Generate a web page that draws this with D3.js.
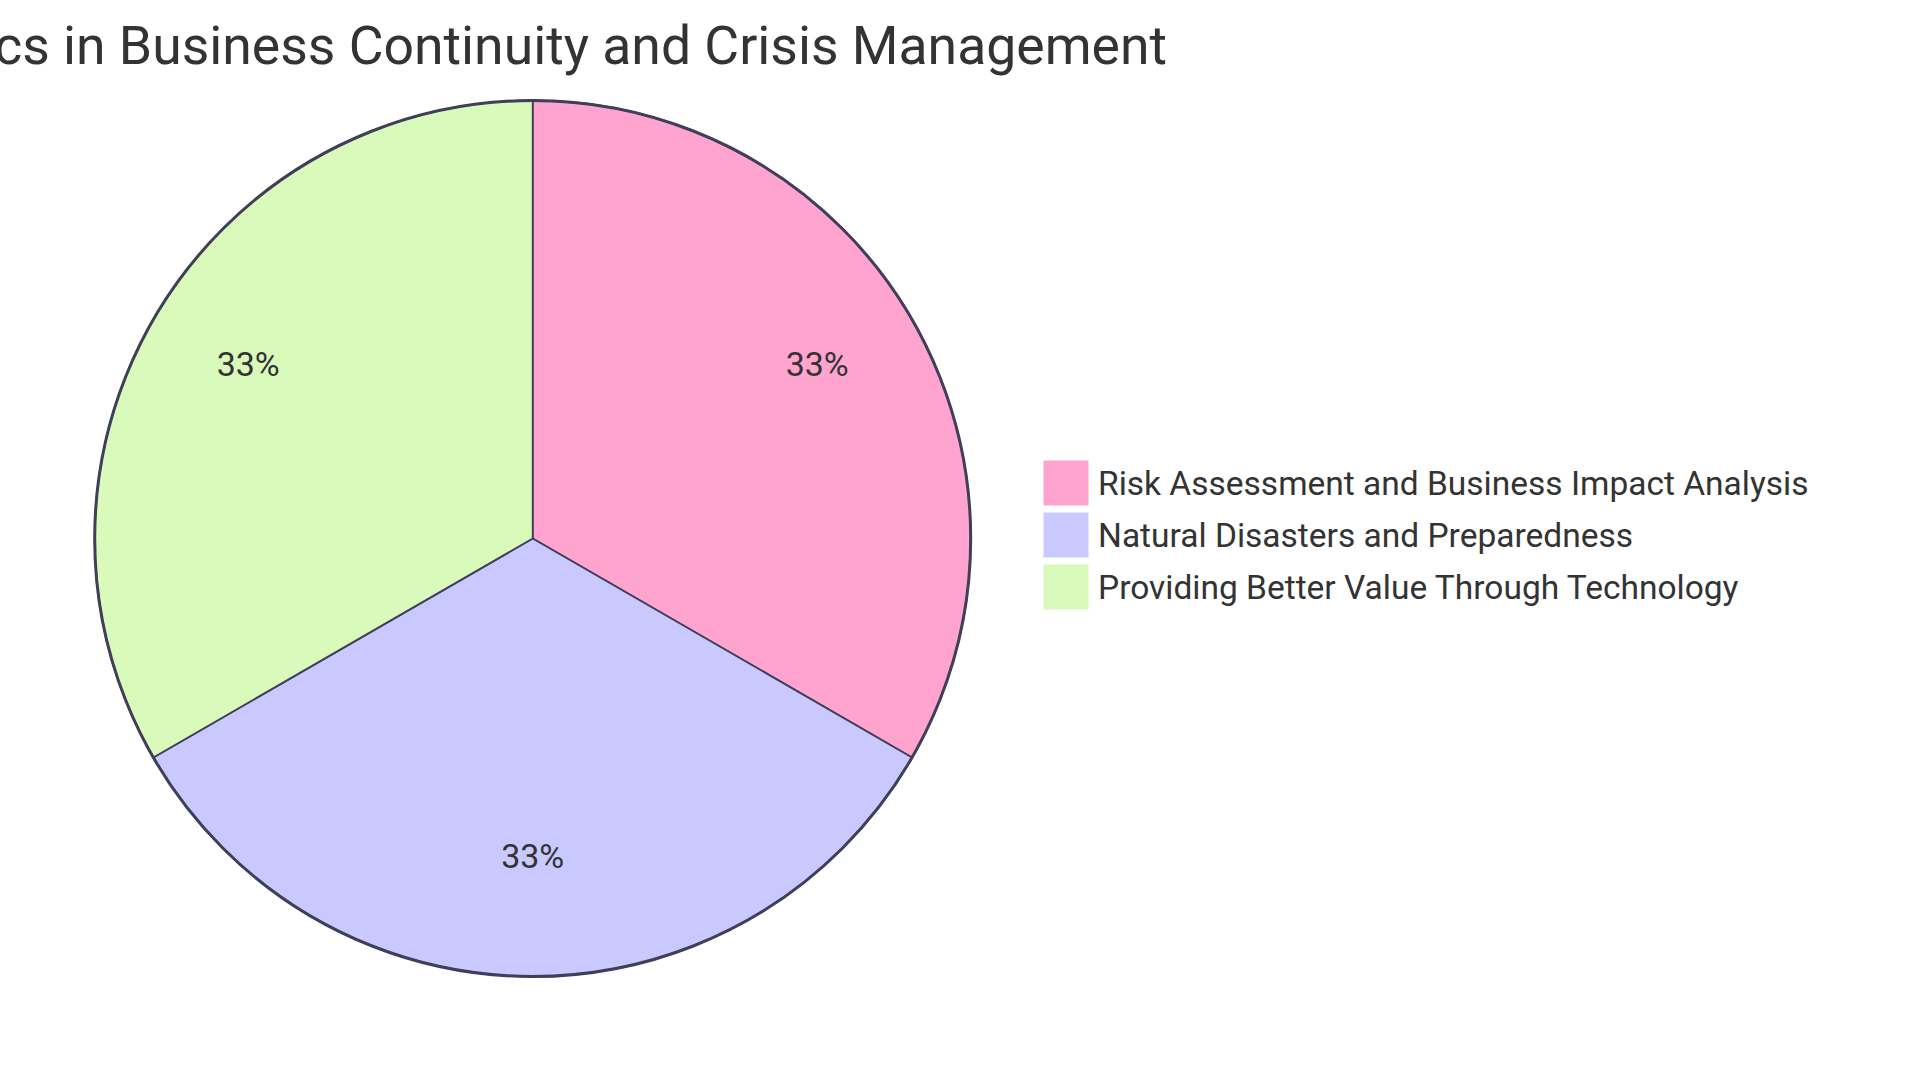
<!DOCTYPE html>
<html><head><meta charset="utf-8">
<script src="https://cdn.jsdelivr.net/npm/d3@7"></script>
<style>
html,body{margin:0;padding:0;background:#fff;overflow:hidden;}
text{font-family:Roboto,Inter,"Open Sans",sans-serif;}
</style></head>
<body>
<svg id="chart" width="1920" height="1080"></svg>
<script>
const titleText = "Key Topics in Business Continuity and Crisis Management";
const categories = ["Risk Assessment and Business Impact Analysis", "Natural Disasters and Preparedness", "Providing Better Value Through Technology"];
const values = [1, 1, 1];
const colors = ["#FFA3CF", "#C9C9FF", "#D9FABB"];

const svg = d3.select("#chart");
const cx = 532.7, cy = 538.5, R = 438;
const g = svg.append("g").attr("transform", `translate(${cx},${cy})`);

const pie = d3.pie().sort(null).value(d => d)(values);
const arc = d3.arc().innerRadius(0).outerRadius(R);
const labelArc = d3.arc().innerRadius(R * 0.75).outerRadius(R * 0.75);
const total = d3.sum(values);

g.selectAll("path.slice").data(pie).join("path")
  .attr("d", arc)
  .attr("fill", (d, i) => colors[i])
  .attr("stroke", "#3f3f5a")
  .attr("stroke-width", 1.8);

g.append("circle").attr("r", R).attr("fill", "none")
  .attr("stroke", "#3f3f5a").attr("stroke-width", 3);

g.selectAll("text.lbl").data(pie).join("text")
  .attr("transform", d => `translate(${labelArc.centroid(d)})`)
  .attr("text-anchor", "middle")
  .attr("dy", "0.04em")
  .attr("font-size", 34)
  .attr("fill", "#333")
  .text(d => Math.round(d.value / total * 100) + "%");

svg.append("text")
  .attr("x", 1167).attr("y", 64)
  .attr("text-anchor", "end")
  .attr("font-size", 53.5)
  .attr("fill", "#333")
  .text(titleText);

const lg = svg.append("g").attr("transform", "translate(1044,461)");
const items = lg.selectAll("g").data(categories).join("g")
  .attr("transform", (d, i) => `translate(0,${i * 52})`);
items.append("rect").attr("width", 44).attr("height", 44)
  .attr("fill", (d, i) => colors[i])
  .attr("stroke", (d, i) => colors[i]).attr("stroke-width", 1);
items.append("text").attr("x", 54).attr("y", 22).attr("dy", "0.36em")
  .attr("font-size", 33.5).attr("fill", "#333")
  .text(d => d);
</script>
</body></html>
